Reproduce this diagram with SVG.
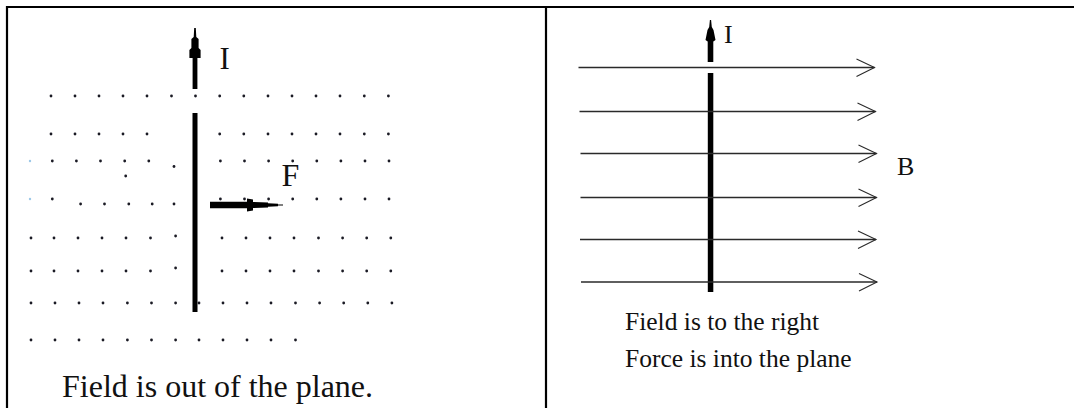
<svg xmlns="http://www.w3.org/2000/svg" width="1074" height="408" viewBox="0 0 1074 408">
<style>
.frame{stroke:#000;stroke-width:2.2;fill:none}
.dot{fill:#1a1a24}
.faint{fill:#9cc8e8}
.wire{fill:#000}
.lbl{font-family:"Liberation Serif","Times New Roman",serif;fill:#111}
.field{stroke:#2a2a2a;stroke-width:1.3;fill:none}
.chev{stroke:#2a2a2a;stroke-width:1.1;fill:none}
</style>
<defs>
<circle id="d" r="1.4" class="dot"/>
<g id="fl">
<line x1="0" y1="0" x2="296" y2="0" class="field"/>
<polyline points="278,-8.5 296,0 278,9" class="chev"/>
</g>
</defs>
<g id="frame">
<line x1="7" y1="7" x2="1074" y2="7" class="frame"/>
<line x1="7" y1="6" x2="7" y2="408" class="frame"/>
<line x1="546" y1="6" x2="546" y2="408" class="frame"/>
</g>
<g id="left-panel">
<g id="dots">
<use href="#d" x="51" y="96"/><use href="#d" x="75" y="96"/><use href="#d" x="99" y="96"/><use href="#d" x="123" y="96"/><use href="#d" x="147" y="96"/><use href="#d" x="171.5" y="96"/><use href="#d" x="195.5" y="96"/><use href="#d" x="219.7" y="96"/><use href="#d" x="243.8" y="96"/><use href="#d" x="268" y="96"/><use href="#d" x="292" y="96"/><use href="#d" x="316" y="96"/><use href="#d" x="340" y="96"/><use href="#d" x="364.3" y="96"/><use href="#d" x="388.4" y="96"/>
<use href="#d" x="51" y="134"/><use href="#d" x="75" y="134"/><use href="#d" x="99" y="134"/><use href="#d" x="123" y="134"/><use href="#d" x="147" y="134"/><use href="#d" x="219.7" y="134"/><use href="#d" x="243.8" y="134"/><use href="#d" x="268" y="134"/><use href="#d" x="292" y="134"/><use href="#d" x="316" y="134"/><use href="#d" x="340" y="134"/><use href="#d" x="364.3" y="134"/><use href="#d" x="388.4" y="134"/>
<circle cx="30" cy="161" r="1.2" class="faint"/>
<use href="#d" x="52.3" y="161"/><use href="#d" x="76.4" y="161"/><use href="#d" x="100.5" y="161"/><use href="#d" x="124.7" y="161"/><use href="#d" x="148.8" y="161"/><use href="#d" x="174" y="166.5"/><use href="#d" x="125.7" y="176"/>
<use href="#d" x="220.4" y="161"/><use href="#d" x="244.5" y="161"/><use href="#d" x="268.6" y="161"/><use href="#d" x="292.7" y="161"/><use href="#d" x="316.8" y="161"/><use href="#d" x="340.9" y="161"/><use href="#d" x="365" y="161"/><use href="#d" x="389" y="161"/>
<circle cx="30" cy="199" r="1.2" class="faint"/>
<use href="#d" x="52.3" y="199"/><use href="#d" x="80.6" y="204"/><use href="#d" x="104.5" y="204"/><use href="#d" x="128.8" y="204"/><use href="#d" x="152.2" y="204"/><use href="#d" x="174" y="204"/>
<use href="#d" x="220.4" y="199"/><use href="#d" x="244.5" y="199"/><use href="#d" x="268.6" y="199"/><use href="#d" x="292.7" y="199"/><use href="#d" x="316.8" y="199"/><use href="#d" x="340.9" y="199"/><use href="#d" x="365" y="199"/><use href="#d" x="389" y="199"/>
<use href="#d" x="31" y="238"/><use href="#d" x="54" y="238"/><use href="#d" x="78" y="238"/><use href="#d" x="102" y="238"/><use href="#d" x="126" y="238"/><use href="#d" x="150.5" y="238"/><use href="#d" x="175.6" y="236"/>
<use href="#d" x="222" y="238"/><use href="#d" x="246" y="238"/><use href="#d" x="270" y="238"/><use href="#d" x="294" y="238"/><use href="#d" x="318.5" y="238"/><use href="#d" x="342.6" y="238"/><use href="#d" x="366.7" y="238"/><use href="#d" x="390.8" y="238"/>
<use href="#d" x="31" y="271"/><use href="#d" x="54" y="271"/><use href="#d" x="78" y="271"/><use href="#d" x="102" y="271"/><use href="#d" x="126" y="271"/><use href="#d" x="150.5" y="271"/><use href="#d" x="175.6" y="268"/>
<use href="#d" x="222" y="271"/><use href="#d" x="246" y="271"/><use href="#d" x="270" y="271"/><use href="#d" x="294" y="271"/><use href="#d" x="318.5" y="271"/><use href="#d" x="342.6" y="271"/><use href="#d" x="366.7" y="271"/><use href="#d" x="390.8" y="271"/>
<use href="#d" x="31" y="303"/><use href="#d" x="55" y="303"/><use href="#d" x="79" y="303"/><use href="#d" x="103" y="303"/><use href="#d" x="127.4" y="303"/><use href="#d" x="151.5" y="303"/><use href="#d" x="175.6" y="303"/><use href="#d" x="199" y="303"/><use href="#d" x="223" y="303"/><use href="#d" x="247" y="303"/><use href="#d" x="271" y="303"/><use href="#d" x="295.5" y="303"/><use href="#d" x="319.6" y="303"/><use href="#d" x="343.7" y="303"/><use href="#d" x="367.8" y="303"/><use href="#d" x="391.9" y="303"/>
<use href="#d" x="31" y="340"/><use href="#d" x="55" y="340"/><use href="#d" x="79" y="340"/><use href="#d" x="103" y="340"/><use href="#d" x="127.4" y="340"/><use href="#d" x="151.5" y="340"/><use href="#d" x="175.6" y="340"/><use href="#d" x="199" y="340"/><use href="#d" x="223" y="340"/><use href="#d" x="247" y="340"/><use href="#d" x="271" y="340"/><use href="#d" x="295.5" y="340"/>
</g>
<g id="left-wire">
<rect x="192.5" y="113" width="5" height="199" class="wire"/>
</g>
<text id="left-I" class="lbl" x="219.5" y="69" font-size="31">I</text>
<text id="left-F" class="lbl" x="281.5" y="186" font-size="32">F</text>
<text id="left-caption" class="lbl" x="62" y="397" font-size="32">Field is out of the plane.</text>
</g>
<g id="right-panel">
<g id="right-wire">
<rect x="707.8" y="73" width="5.5" height="219" class="wire"/>
</g>
<text id="right-I" class="lbl" x="724" y="43" font-size="26">I</text>
<text id="right-B" class="lbl" x="897" y="174.5" font-size="26">B</text>
<text id="right-caption1" class="lbl" x="625" y="329.5" font-size="25.5">Field is to the right</text>
<text id="right-caption2" class="lbl" x="625" y="367" font-size="25.5">Force is into the plane</text>
</g>
<g id="connectors">
<polygon id="arrow-left-I" class="wire" points="194.2,28 195.8,28 196.3,37 198.6,39 198.6,48 200.6,50 200.6,58 197.4,58 197.4,89 192.6,89 192.6,58 189.4,58 189.4,50 191.4,48 191.4,39 193.7,37"/>
<polygon id="arrow-F" class="wire" points="210,201.7 247,201.7 247,198.5 253,199.5 253,202 268,202.5 268,203.2 278,203.8 278,204.4 283,204.6 283,205.4 278,205.6 278,206.2 268,206.8 268,207.5 253,208 253,210.5 247,211.5 247,208.3 210,208.3"/>
<polygon id="arrow-right-I" class="wire" points="709.9,20 711.1,20 711.8,27 713.5,30 715.5,40 713.3,41.5 713.3,62 707.7,62 707.7,41.5 705.5,40 707.5,30 709.2,27"/>
<g id="field-lines">
<use href="#fl" x="578.5" y="67.5"/>
<use href="#fl" x="579.5" y="111.5"/>
<use href="#fl" x="580.5" y="153.5"/>
<use href="#fl" x="580.5" y="197.5"/>
<use href="#fl" x="580" y="239.5"/>
<use href="#fl" x="581" y="282"/>
</g>
</g>
</svg>
